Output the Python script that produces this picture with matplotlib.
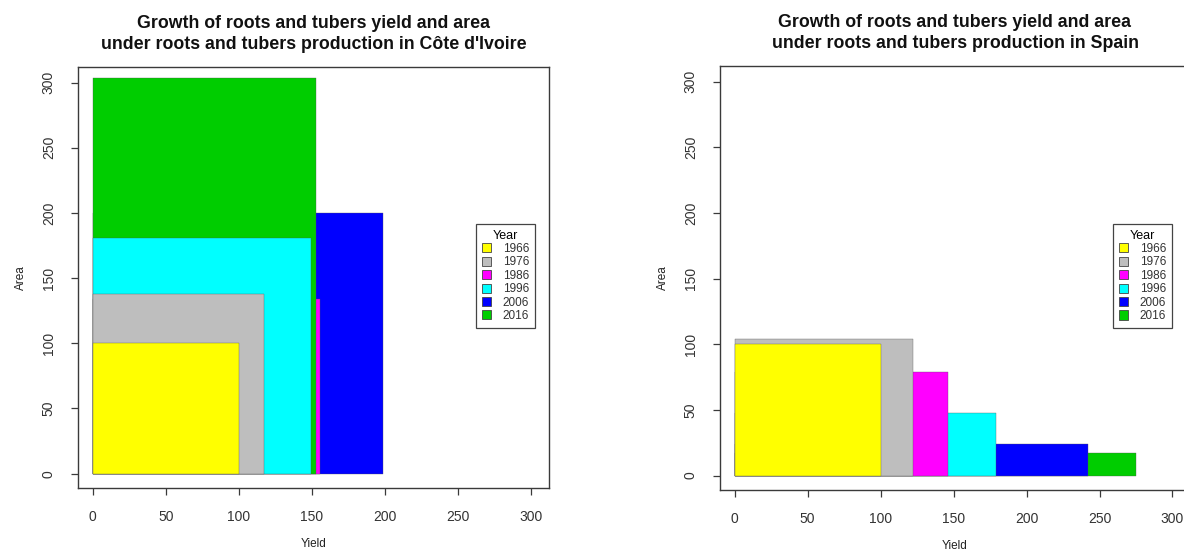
import matplotlib.pyplot as plt
from matplotlib.patches import Patch

plt.rcParams['font.family'] = ['Liberation Sans', 'DejaVu Sans']

years = ['1966', '1976', '1986', '1996', '2006', '2016']
colors = ['#FFFF00', '#BEBEBE', '#FF00FF', '#00FFFF', '#0000FF', '#00CD00']

# index values (1966 = 100)
civ_yield = [100, 117, 155.5, 149.5, 198.5, 152.5]
civ_area = [100, 137.5, 134, 181, 200, 303.5]
esp_yield = [100, 122.5, 146, 179, 242, 275]
esp_area = [100, 104, 79, 48, 24, 17]

W, H = 1184, 556
fig = plt.figure(figsize=(W / 100, H / 100), dpi=100)

ink = '#3a3a3a'


def panel(box, yld, area, country, leg_pos):
    l, t, r, b = box
    ax = fig.add_axes([l / W, 1 - b / H, (r - l) / W, (b - t) / H])
    # widest rectangle first so the smaller ones stay visible on top
    order = sorted(range(len(years)), key=lambda i: -yld[i])
    for i in order:
        ax.bar(0, area[i], width=yld[i], align='edge', color=colors[i],
               edgecolor='#555555', linewidth=0.25, zorder=2)
    ax.set_xlim(-10, 312)
    ax.set_ylim(-11, 312)
    ax.set_xticks(range(0, 301, 50))
    ax.set_yticks(range(0, 301, 50))
    ax.tick_params(colors=ink, labelcolor='#333333', labelsize=10,
                   length=5, width=0.9)
    ax.tick_params(axis='x', pad=11)
    ax.tick_params(axis='y', pad=11)
    plt.setp(ax.get_yticklabels(), rotation=90, va='center')
    for s in ax.spines.values():
        s.set_color(ink)
        s.set_linewidth(1.0)
    ax.set_xlabel('Yield', fontsize=8.5, color='#222222', labelpad=10)
    ax.set_ylabel('Area', fontsize=8.5, color='#222222', labelpad=11)
    ax.set_title('Growth of roots and tubers yield and area\n'
                 'under roots and tubers production in ' + country,
                 fontsize=12.8, fontweight='bold', color='#111111',
                 pad=13, linespacing=1.3)
    handles = [Patch(facecolor=c, edgecolor='#444444', linewidth=0.6)
               for c in colors]
    leg = ax.legend(handles, years, title='Year', loc='upper left',
                    bbox_to_anchor=leg_pos, fontsize=8.5, title_fontsize=9,
                    handlelength=0.8, handleheight=0.8, handletextpad=1.0,
                    labelspacing=0.12, borderpad=0.5, fancybox=False,
                    framealpha=1, edgecolor='#444444')
    leg.get_frame().set_linewidth(0.9)
    for txt in leg.get_texts():
        txt.set_color('#333333')
    return ax


panel((78, 67, 549, 488), civ_yield, civ_area, "Côte d'Ivoire", (0.832, 0.642))
panel((720, 66, 1190, 490), esp_yield, esp_area, 'Spain', (0.823, 0.642))

fig.savefig('out.png', dpi=100, facecolor='white')
